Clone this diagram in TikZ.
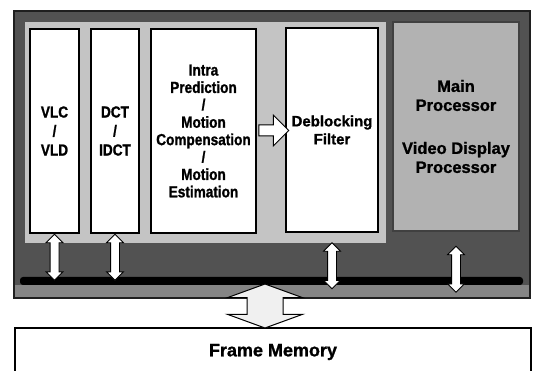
\documentclass[tikz,border=0pt]{standalone}
\usepackage{fontspec}
\newfontfamily\condfont{Liberation Sans}[FakeStretch=0.85, BoldFeatures={FakeBold=1.2}]
\newfontfamily\plainfont{Liberation Sans}[BoldFeatures={FakeBold=1.2}]
\usetikzlibrary{positioning,calc,shapes.arrows}

\tikzset{
  unit/.style={draw=black, line width=1.1pt, fill=white, inner sep=0pt, align=center,
    minimum height=204pt, font=\condfont\bfseries\fontsize{16}{19}\selectfont},
  cpu/.style={unit, fill=black!30, draw=black!75, minimum height=209pt,
    font=\plainfont\bfseries\fontsize{16.5}{19}\selectfont},
  busarrow/.style={double arrow, draw=black, line width=0.8pt, fill=white, inner xsep=0pt, inner ysep=4pt,
    double arrow head extend=4pt, minimum height=46pt, rotate=90},
  flowarrow/.style={single arrow, draw=black, line width=1pt, fill=white, inner xsep=0pt, inner ysep=5pt,
    single arrow head extend=10pt, minimum height=30pt},
}

\begin{document}
\begin{tikzpicture}[x=1pt,y=-1pt]
\clip (0,0) rectangle (533,371);
% chip
\fill[black!68] (14,11) rectangle (530,298);
\fill[black!48] (14,285) rectangle (530,298);
\draw[black!88, line width=1.5pt] (14,11) rectangle (530,298);
\fill[black!23] (25,22) rectangle (386,243);

\node[unit, minimum width=49pt] (vlc) at (54.5,131) {VLC\\/\\VLD};
\node[unit, minimum width=48pt] (dct) at (115,131) {DCT\\/\\IDCT};
\node[unit, minimum width=105pt, font=\condfont\bfseries\fontsize{16}{17.4}\selectfont] (intra) at (203.5,131)
  {Intra\\Prediction\\/\\Motion\\Compensation\\/\\Motion\\Estimation};
\node[unit, minimum width=92pt, font=\plainfont\bfseries\fontsize{15}{18}\selectfont] (deblock) at (332,130)
  {Deblocking\\Filter};
\node[cpu, minimum width=126pt] (main) at (456,126.5)
  {Main\\Processor\\[24pt]Video Display\\Processor};

\node[flowarrow] (mc2df) at ($(intra.east)!0.5!(deblock.west)$) {};

% bus
\node[fill=black, rounded corners=3pt, minimum width=503pt, minimum height=8pt, inner sep=0pt] (bus) at (271.5,281) {};
\node[busarrow] (vlcbus) at ($(vlc.south)!0.5!(vlc.south |- bus.center)$) {};
\node[busarrow] (dctbus) at ($(dct.south)!0.5!(dct.south |- bus.center)$) {};
\node[busarrow, xshift=-9pt] (dfbus) at ($(deblock.south)!0.5!(deblock.south |- bus.center)$) {};
\node[busarrow, xshift=-13pt] (cpubus) at ($(main.south)!0.5!(main.south |- bus.center)$) {};

% memory
\node[draw=black, line width=1.2pt, fill=white, minimum width=516pt, minimum height=48pt,
  font=\plainfont\bfseries\fontsize{18}{20}\selectfont] (frame) at (273,352) {Frame Memory};
\node[double arrow, draw=black, line width=1pt, fill=black!6, inner xsep=0pt, inner ysep=17.5pt,
  double arrow head extend=19.5pt, double arrow tip angle=140, minimum height=44pt, rotate=90] (link) at (265,306) {};
\end{tikzpicture}
\end{document}
